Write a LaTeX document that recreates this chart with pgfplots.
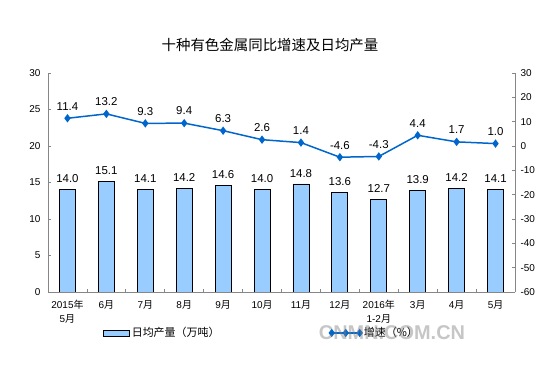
\documentclass[border=0pt]{standalone}
\usepackage{pgfplots}
\pgfplotsset{compat=1.18}
\usepackage{fontspec}
\setmainfont{Liberation Sans}
\newfontfamily\cjk{Noto Sans CJK SC}
\definecolor{barfill}{RGB}{153,204,255}
\definecolor{linec}{RGB}{0,102,204}
\definecolor{axgray}{RGB}{134,134,134}
\pgfplotsset{
  common/.style={
    at={(48bp,77bp)}, anchor=south west, scale only axis,
    width=467bp, height=219bp,
    xmin=-0.5, xmax=11.5,
    tick align=inside, major tick length=3bp, minor tick length=3bp,
    axis line style={axgray, line width=0.8pt},
    every tick/.style={axgray, line width=0.8pt},
    tick label style={font=\fontsize{10}{12}\selectfont, text=black},
    /pgf/number format/assume math mode=true,
  },
  linelegend/.style={legend image code/.code={\draw[##1] plot coordinates {(0bp,0bp) (14bp,0bp) (28bp,0bp)};}},
  barlegend/.style={legend image code/.code={\draw[draw=black,fill=barfill,line width=0.8pt] (0bp,-3bp) rectangle (26bp,3bp);}},
}
\begin{document}
\begin{tikzpicture}
\path (0,0) rectangle (554bp,369bp);
\node[font=\cjk\fontsize{14.5}{16}\selectfont] at (270bp,324bp) {十种有色金属同比增速及日均产量};
\begin{axis}[common,
  ymin=0, ymax=30, ytick={0,5,...,30},
  axis x line*=bottom, axis y line*=left,
  xtick={0,...,11}, major x tick style={draw=none},
  minor x tick num=1,
  xticklabels={{2015{\cjk 年}\\5{\cjk 月}},{6\cjk 月},{7\cjk 月},{8\cjk 月},{9\cjk 月},{10\cjk 月},{11\cjk 月},{12\cjk 月},{2016{\cjk 年}\\1-2{\cjk 月}},{3\cjk 月},{4\cjk 月},{5\cjk 月}},
  xticklabel style={align=center, font=\fontsize{10}{14}\selectfont, yshift=-5bp},
  yticklabel style={xshift=-4bp},
  nodes near coords, nodes near coords align={anchor=south},
  every node near coord/.append style={font=\fontsize{11.5}{12}\selectfont, text=black, yshift=3bp,
    /pgf/number format/.cd, fixed, fixed zerofill, precision=1, assume math mode=true},
]
\addplot[ybar, bar width=16bp, fill=barfill, draw=black, line width=0.8pt] coordinates {
(0,14.0) (1,15.1) (2,14.1) (3,14.2) (4,14.6) (5,14.0) (6,14.8) (7,13.6) (8,12.7) (9,13.9) (10,14.2) (11,14.1)};
\end{axis}
\begin{axis}[common,
  ymin=-60, ymax=30, ytick={-60,-50,...,30},
  axis y line*=right, axis x line=none,
  yticklabel style={xshift=2bp},
  nodes near coords, nodes near coords align={anchor=south},
  every node near coord/.append style={font=\fontsize{11.5}{12}\selectfont, text=black, yshift=4bp,
    /pgf/number format/.cd, fixed, fixed zerofill, precision=1, assume math mode=true},
  legend style={at={(0.111,-0.187)}, anchor=west, draw=none, fill=none, legend columns=2,
    font=\cjk\fontsize{11}{12}\selectfont,
    /tikz/every even column/.append style={column sep=108bp}},
]
\addlegendimage{barlegend}
\addlegendentry{日均产量（万吨）}
\addplot[linec, line width=1.5pt, mark=diamond*, mark size=3bp, mark options={fill=linec}, linelegend]
coordinates {
(0,11.4) (1,13.2) (2,9.3) (3,9.4) (4,6.3) (5,2.6) (6,1.4) (7,-4.6) (8,-4.3) (9,4.4) (10,1.7) (11,1.0)};
\addlegendentry{增速（\%）}
\end{axis}
\node[text=gray, opacity=0.45, font=\bfseries\fontsize{20}{20}\selectfont] at (392bp,36bp) {CNMN.COM.CN};
\end{tikzpicture}
\end{document}
